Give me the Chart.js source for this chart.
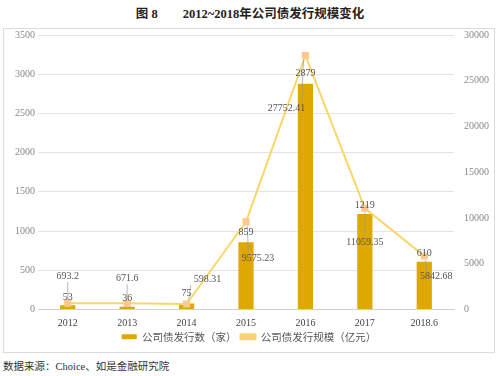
<!DOCTYPE html>
<html>
<head>
<meta charset="utf-8">
<script src="https://cdn.jsdelivr.net/npm/chart.js@4"></script>
<style>
  body { margin: 0; background: #fff; width: 500px; height: 376px; position: relative; overflow: hidden;
         font-family: "Liberation Serif", "Noto Sans CJK SC", serif; }
  #title { position: absolute; left: 0; top: 3px; width: 500px; text-align: center; font-size: 12.5px;
           font-weight: bold; color: #222; }
  #box { position: absolute; left: 3px; top: 28px; width: 490px; height: 323px; border: 1px solid #dcdcdc; }
  #source { position: absolute; left: 3px; top: 358px; font-size: 10.5px; color: #333; }
</style>
</head>
<body>
<div id="title">图 8　　2012~2018年公司债发行规模变化</div>
<div id="box"><canvas id="chart" width="490" height="323"></canvas></div>
<div id="source">数据来源：Choice、如是金融研究院</div>
<script>
const YEARS = ['2012', '2013', '2014', '2015', '2016', '2017', '2018.6'];
const COUNT = [53, 36, 75, 859, 2879, 1219, 610];
const SCALE = [693.2, 671.6, 598.31, 9575.23, 27752.41, 11059.35, 5842.68];

// label offsets in px (style only)
const COUNT_OFF = [[0, -8], [0, -8], [0, -10], [0, -10], [0, -10], [0, -9], [0, -8]];
const SCALE_OFF = [[0, -27], [0, -25], [21, -25], [12, 36], [-19, 53], [0, 34], [12, 20]];

const labelPlugin = {
    id: 'labels',
    afterDatasetsDraw(chart) {
        const ctx = chart.ctx;
        ctx.save();
        ctx.font = '10px "Liberation Serif", serif';
        ctx.fillStyle = '#555';
        ctx.textAlign = 'center';
        ctx.textBaseline = 'middle';
        const bars = chart.getDatasetMeta(0).data;
        const pts = chart.getDatasetMeta(1).data;
        pts.forEach((p, i) => {
            const [dx, dy] = SCALE_OFF[i];
            const lx = p.x + dx, ly = p.y + dy;
            ctx.strokeStyle = '#999';
            ctx.lineWidth = 0.7;
            ctx.beginPath();
            ctx.moveTo(lx - dx * 0.8, ly + (dy < 0 ? 6 : -6));
            ctx.lineTo(p.x + dx * 0.1, p.y + (dy < 0 ? -4 : 4));
            ctx.stroke();
            ctx.fillText(String(SCALE[i]), lx, ly);
        });
        bars.forEach((b, i) => {
            const [dx, dy] = COUNT_OFF[i];
            ctx.fillText(String(COUNT[i]), b.x + dx, b.y + dy);
        });
        ctx.restore();
    }
};

const tickFont = { family: '"Liberation Serif", serif', size: 10 };
const noPad = a => { a.paddingTop = 0; a.paddingBottom = 0; };

new Chart(document.getElementById('chart'), {
    type: 'bar',
    data: {
        labels: YEARS,
        datasets: [
            {
                label: '公司债发行数（家）',
                data: COUNT,
                backgroundColor: '#dfa800',
                borderColor: '#dfa800',
                barPercentage: 0.8,
                categoryPercentage: 0.32,
                yAxisID: 'y',
                order: 1,
            },
            {
                type: 'line',
                label: '公司债发行规模（亿元）',
                data: SCALE,
                borderColor: '#f8d66a',
                backgroundColor: '#f9c98e',
                borderWidth: 2,
                pointStyle: 'rect',
                pointRadius: 5,
                pointBorderWidth: 0,
                tension: 0,
                yAxisID: 'y1',
                order: 0,
            },
        ]
    },
    options: {
        responsive: false,
        animation: false,
        devicePixelRatio: 1,
        layout: { autoPadding: false, padding: { top: 6, right: 0, left: 0, bottom: 0 } },
        scales: {
            x: {
                grid: { display: false },
                border: { color: '#d0d0d0' },
                ticks: { color: '#444', font: tickFont, padding: 0, maxRotation: 0 },
                afterFit(a) { a.height = 18; a.paddingLeft = 0; a.paddingRight = 0; },
            },
            y: {
                position: 'left',
                min: 0, max: 3500,
                ticks: { stepSize: 500, color: '#888', font: tickFont, callback: v => String(v) },
                grid: { color: '#e4e4e4', drawTicks: false },
                border: { display: false },
                afterFit(a) { a.width = 34; noPad(a); },
            },
            y1: {
                position: 'right',
                min: 0, max: 30000,
                ticks: { stepSize: 5000, color: '#888', font: tickFont, padding: 2, callback: v => String(v) },
                grid: { display: false },
                border: { display: false },
                afterFit(a) { a.width = 40; noPad(a); },
            },
        },
        plugins: {
            legend: {
                position: 'bottom',
                labels: {
                    boxWidth: 15, boxHeight: 5, padding: 4, color: '#555',
                    font: { family: '"Noto Sans CJK SC", sans-serif', size: 10.5 },
                    sort: (a, b) => a.datasetIndex - b.datasetIndex,
                },
            },
            tooltip: { enabled: false },
        },
    },
    plugins: [labelPlugin],
});
</script>
</body>
</html>
